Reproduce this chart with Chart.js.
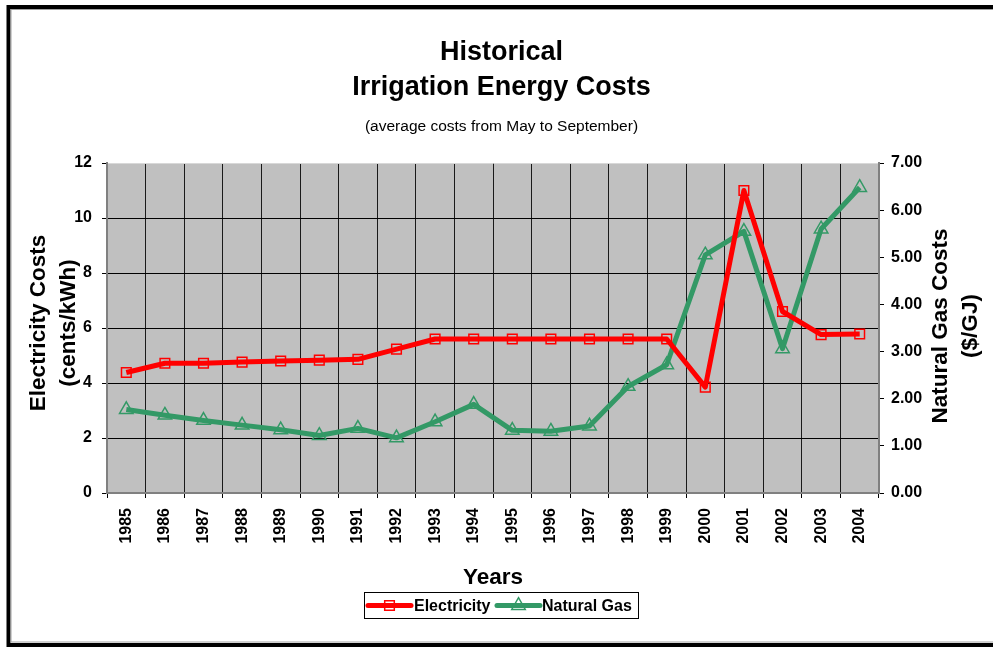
<!DOCTYPE html>
<html>
<head>
<meta charset="utf-8">
<script src="https://cdn.jsdelivr.net/npm/chart.js@4/dist/chart.umd.min.js"></script>
<style>
  html, body { margin: 0; padding: 0; background: #ffffff; }
  #wrap { position: relative; width: 993px; height: 648px; overflow: hidden; }
  canvas { display: block; }
</style>
</head>
<body>
<div id="wrap"><canvas id="c" width="993" height="648"></canvas></div>
<script>
// ---- Data ----
const years = ['1985','1986','1987','1988','1989','1990','1991','1992','1993','1994',
               '1995','1996','1997','1998','1999','2000','2001','2002','2003','2004'];
const electricity = [4.38, 4.72, 4.72, 4.76, 4.80, 4.83, 4.86, 5.23, 5.60, 5.60,
                     5.60, 5.60, 5.60, 5.60, 5.60, 3.85, 11.00, 6.60, 5.76, 5.78];
const naturalGas = [1.77, 1.65, 1.54, 1.44, 1.34, 1.22, 1.37, 1.17, 1.51, 1.88,
                    1.33, 1.31, 1.42, 2.26, 2.72, 5.05, 5.55, 3.06, 5.60, 6.48];
const seriesNames = ['Electricity', 'Natural Gas'];
const titleLines = ['Historical', 'Irrigation Energy Costs'];
const subtitleText = '(average costs from May to September)';
const xTitle = 'Years';
const leftTitle = ['Electricity Costs', '(cents/kWh)'];
const rightTitle = ['Natural Gas Costs', '($/GJ)'];

const FONT = '"Liberation Sans", Arial, Helvetica, sans-serif';
Chart.defaults.font.family = FONT;
Chart.defaults.color = '#000';

const RED = '#FF0000';
const GREEN = '#339966';

const framePlugin = {
  id: 'frame',
  beforeDraw(chart) {
    const ctx = chart.ctx;
    const a = chart.chartArea;
    ctx.save();
    ctx.fillStyle = '#ffffff';
    ctx.fillRect(0, 0, chart.width, chart.height);
    // outer frame
    ctx.strokeStyle = '#000';
    ctx.lineWidth = 4;
    ctx.strokeRect(8.5, 7, 1100, 638);
    ctx.strokeStyle = '#a0a0a0';
    ctx.lineWidth = 1;
    ctx.strokeRect(11, 9.5, 1100, 632.5);
    // plot background
    ctx.fillStyle = '#C0C0C0';
    ctx.fillRect(a.left, a.top, a.right - a.left, a.bottom - a.top);
    ctx.restore();
  },
  afterDraw(chart) {
    const ctx = chart.ctx;
    ctx.save();
    // axis titles (both rotated to read bottom-to-top)
    ctx.fillStyle = '#000';
    ctx.font = 'bold 22.5px ' + FONT;
    ctx.textAlign = 'center';
    ctx.textBaseline = 'middle';
    const drawRot = (text, x, y) => {
      ctx.save();
      ctx.translate(x, y);
      ctx.rotate(-Math.PI / 2);
      ctx.fillText(text, 0, 0);
      ctx.restore();
    };
    drawRot(leftTitle[0], 39, 323);
    drawRot(leftTitle[1], 69, 323);
    drawRot(rightTitle[0], 941, 326);
    drawRot(rightTitle[1], 971, 326);

    // legend box
    ctx.strokeStyle = '#000';
    ctx.lineWidth = 1;
    ctx.strokeRect(364.5, 592.5, 274, 26);
    const items = [
      { ds: chart.data.datasets[0], x0: 368, x1: 411, text: 414 },
      { ds: chart.data.datasets[1], x0: 497, x1: 540, text: 542 }
    ];
    const ly = 605.5;
    items.forEach(it => {
      ctx.strokeStyle = it.ds.borderColor;
      ctx.lineWidth = it.ds.borderWidth;
      ctx.lineCap = 'round';
      ctx.beginPath();
      ctx.moveTo(it.x0, ly);
      ctx.lineTo(it.x1, ly);
      ctx.stroke();
      ctx.strokeStyle = it.ds.pointBorderColor;
      ctx.fillStyle = 'rgba(0,0,0,0)';
      ctx.lineWidth = it.ds.pointBorderWidth;
      Chart.helpers.drawPoint(ctx, {
        pointStyle: it.ds.pointStyle,
        radius: it.ds.pointRadius,
        borderWidth: it.ds.pointBorderWidth,
        rotation: 0
      }, (it.x0 + it.x1) / 2, ly);
      ctx.fillStyle = '#000';
      ctx.font = 'bold 16px ' + FONT;
      ctx.textAlign = 'left';
      ctx.textBaseline = 'middle';
      ctx.fillText(it.ds.label, it.text, ly + 1);
    });
    ctx.restore();
  }
};

new Chart(document.getElementById('c'), {
  type: 'line',
  data: {
    labels: years,
    datasets: [
      {
        label: seriesNames[0],
        data: electricity,
        yAxisID: 'y',
        borderColor: RED,
        borderWidth: 5,
        borderJoinStyle: 'round',
        tension: 0,
        pointStyle: 'rect',
        pointRadius: 6.8,
        pointHoverRadius: 6.8,
        pointBorderWidth: 1.5,
        pointBorderColor: RED,
        pointBackgroundColor: 'rgba(0,0,0,0)'
      },
      {
        label: seriesNames[1],
        data: naturalGas,
        yAxisID: 'y1',
        borderColor: GREEN,
        borderWidth: 5,
        borderJoinStyle: 'round',
        tension: 0,
        pointStyle: 'triangle',
        pointRadius: 7.8,
        pointHoverRadius: 7.8,
        pointBorderWidth: 1.5,
        pointBorderColor: GREEN,
        pointBackgroundColor: 'rgba(0,0,0,0)'
      }
    ]
  },
  options: {
    responsive: false,
    animation: false,
    devicePixelRatio: 1,
    events: [],
    layout: { padding: { left: 10, right: 0, top: 0, bottom: 0 } },
    plugins: {
      legend: { display: false },
      tooltip: { enabled: false },
      title: {
        display: true,
        text: titleLines,
        color: '#000',
        font: { size: 27, weight: 'bold', lineHeight: 35 / 27 },
        padding: { top: 35.5, bottom: 0 }
      },
      subtitle: {
        display: true,
        text: subtitleText,
        color: '#000',
        font: { size: 15.5, weight: 'normal', lineHeight: 18 / 15.5 },
        padding: { top: 12.5, bottom: 27 }
      }
    },
    scales: {
      x: {
        type: 'category',
        offset: true,
        grid: { offset: true, color: '#1a1a1a', lineWidth: 1, tickLength: 5, tickColor: '#000', drawTicks: true },
        border: { display: true, color: '#808080', width: 2 },
        ticks: {
          autoSkip: false,
          maxRotation: 90,
          minRotation: 90,
          padding: 10,
          color: '#000',
          font: { size: 16, weight: 'bold' }
        },
        title: {
          display: true,
          text: xTitle,
          color: '#000',
          font: { size: 22.5, weight: 'bold', lineHeight: 1.2 },
          padding: { top: 0, bottom: 56.5 }
        },
        afterFit(scale) { scale.height = 155; }
      },
      y: {
        type: 'linear',
        position: 'left',
        min: 0,
        max: 12,
        ticks: {
          stepSize: 2,
          padding: 10,
          color: '#000',
          font: { size: 16, weight: 'bold' }
        },
        grid: {
          color: (c) => (c.tick && c.tick.value === 12 ? '#d8d8d8' : '#000'),
          tickColor: '#000',
          lineWidth: 1,
          tickLength: 5
        },
        border: { display: true, color: '#808080', width: 2 },
        afterFit(scale) { scale.width = 97; }
      },
      y1: {
        type: 'linear',
        position: 'right',
        min: 0,
        max: 7,
        ticks: {
          stepSize: 1,
          padding: 7,
          color: '#000',
          font: { size: 16, weight: 'bold' },
          callback: (v) => Number(v).toFixed(2)
        },
        grid: { drawOnChartArea: false, tickColor: '#000', tickLength: 5 },
        border: { display: true, color: '#808080', width: 2 },
        afterFit(scale) { scale.width = 114; }
      }
    }
  },
  plugins: [framePlugin]
});
</script>
</body>
</html>
